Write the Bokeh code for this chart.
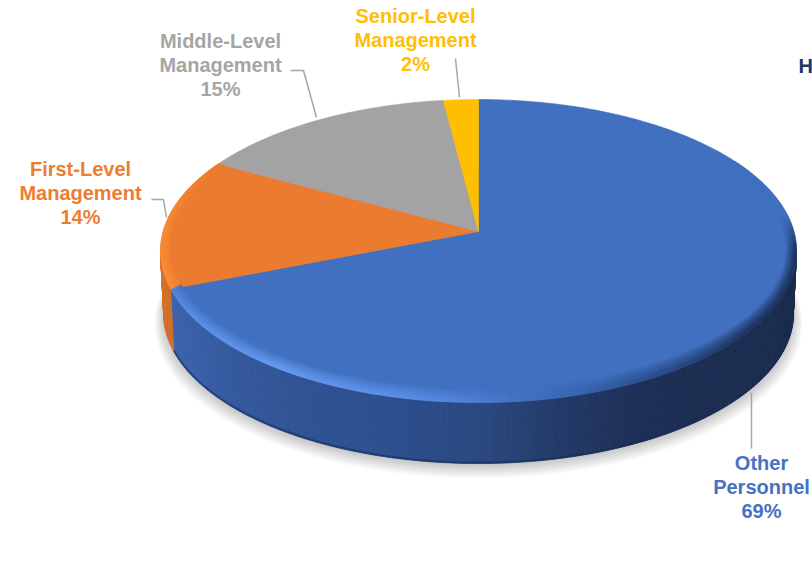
from math import sin, cos, pi, radians

from bokeh.core.properties import value
from bokeh.embed import file_html
from bokeh.models import ColumnDataSource, Range1d
from bokeh.plotting import figure
from bokeh.resources import INLINE

# Share of staff by personnel level, clockwise from twelve o'clock
categories = ["Other Personnel", "First-Level Management", "Middle-Level Management", "Senior-Level Management"]
shares = [69, 14, 15, 2]
slice_colors = ["#4070BF", "#EB7C2F", "#A3A3A3", "#FFBF00"]
label_colors = ["#4472C4", "#ED7D31", "#A5A5A5", "#FFC000"]
label_lines = [["Other", "Personnel", "69%"],
               ["First-Level", "Management", "14%"],
               ["Middle-Level", "Management", "15%"],
               ["Senior-Level", "Management", "2%"]]
label_x = [761, 80, 220, 415]
label_top_y = [462, 168, 40, 15]
LINE_STEP = 24.4
leaders = [([751, 751], [392, 448]),
           ([151, 163, 166], [199, 199, 217]),
           ([290, 303, 316], [70, 70, 117]),
           ([455, 459], [58, 97])]

# Perspective disc: apex position, radii and foreshortening
CX, CY, A, B, K = 478.0, 231.0, 149.0, 315.4, 0.1287
DEPTH = 63.0
WALL_SCALE = 0.99


def rim(theta_deg, rad=1.0, dy=0.0):
    t = radians(theta_deg)
    u, v = rad * sin(t), rad * cos(t)
    s = 1.0 / (1.0 + K * v)
    return CX + B * u * s, CY - A * v * s + dy


def hex_rgb(h):
    return tuple(int(h[i:i + 2], 16) for i in (1, 3, 5))


def lerp(c1, c2, t):
    a, b = hex_rgb(c1), hex_rgb(c2)
    return "#%02x%02x%02x" % tuple(round(a[i] + (b[i] - a[i]) * t) for i in range(3))


def ramp(stops, x):
    if x <= stops[0][0]:
        return stops[0][1]
    for (x0, c0), (x1, c1) in zip(stops, stops[1:]):
        if x <= x1:
            return lerp(c0, c1, (x - x0) / (x1 - x0))
    return stops[-1][1]


def frange(a, b, step):
    n = max(1, round((b - a) / step))
    return [a + (b - a) * i / n for i in range(n + 1)]


# Slice boundaries in degrees
edges = [0.0]
for s in shares:
    edges.append(edges[-1] + s * 3.6)

p = figure(width=812, height=573, output_backend="svg", toolbar_location=None,
           x_range=Range1d(0, 812), y_range=Range1d(573, 0), min_border=0,
           background_fill_color="white", border_fill_color="white")
p.axis.visible = False
p.grid.visible = False
p.outline_line_color = None
p.xaxis.visible = False
p.yaxis.visible = False

# Soft drop shadow beneath the disc
for i in range(9):
    pts = [rim(th, WALL_SCALE + 0.028 - i * 0.004, DEPTH + 9 - i) for th in frange(0, 360, 3)]
    p.patch([q[0] for q in pts], [q[1] for q in pts], fill_color="#000000", fill_alpha=0.028, line_color=None)

# Side wall strips
blue_wall = [(165, "#3A64AE"), (230, "#34599E"), (300, "#2F5393"), (400, "#2C4E8C"), (480, "#2A4880"),
             (560, "#233A68"), (640, "#1C2F55"), (800, "#1A2B4D")]
orange_wall = [(150, "#D9742C"), (180, "#C96C2A")]
LEFTMOST = 262.6
RIGHTMOST = 97.4
wx, wy, wc = [], [], []
for lo, hi, grad in [(RIGHTMOST, edges[1], blue_wall), (edges[1], LEFTMOST, orange_wall)]:
    ths = frange(lo, hi, 0.6)
    for t0, t1 in zip(ths, ths[1:]):
        a0, a1 = rim(t0), rim(t1)
        b0, b1 = rim(t0, WALL_SCALE, DEPTH), rim(t1, WALL_SCALE, DEPTH)
        wx.append([a0[0], a1[0], b1[0], b0[0]])
        wy.append([a0[1], a1[1], b1[1], b0[1]])
        wc.append(ramp(grad, (a0[0] + a1[0]) / 2))
p.patches("xs", "ys", source=ColumnDataSource(dict(xs=wx, ys=wy, c=wc)),
          fill_color="c", line_color="c", line_width=0.8)

# Darker lower edge of the wall
low = [rim(th, WALL_SCALE, DEPTH - 1) for th in frange(RIGHTMOST, edges[1], 1)]
p.line([q[0] for q in low], [q[1] for q in low], line_color="#182B55", line_width=2, line_alpha=0.55)

# Flat top of each slice
for i, color in enumerate(slice_colors):
    pts = [rim(th) for th in frange(edges[i], edges[i + 1], 1)]
    xs = [CX] + [q[0] for q in pts]
    ys = [CY] + [q[1] for q in pts]
    p.patch(xs, ys, fill_color=color, line_color=color, line_width=0.6)

# Bevel around the front of the rim
blue_peak = [(60, "#4070BF"), (84, "#4070BF"), (97, "#1A2D50"), (130, "#1B2F55"), (150, "#2A4A88"),
             (170, "#3F6DBC"), (190, "#5B90EA"), (215, "#699EF4"), (240, "#5C90E6"), (248.4, "#5585D8")]
orange_peak = [(248.4, "#FB8E38"), (270, "#FB8C34"), (285, "#F58430"), (298.8, "#EB7C2F")]
BANDS = 9
gx, gy, gc = [], [], []
for lo, hi, peak, surface in [(60, edges[1], blue_peak, slice_colors[0]),
                              (edges[1], edges[2], orange_peak, slice_colors[1])]:
    ths = frange(lo, hi, 1.2)
    for t0, t1 in zip(ths, ths[1:]):
        for b in range(BANDS):
            def ring(th, j):
                f = j / BANDS
                rad = 0.968 + 0.032 * f
                lift = 8.0 * (1 - f) * max(0.0, -cos(radians(th)))
                return rim(th, rad, -lift)
            q = [ring(t0, b), ring(t1, b), ring(t1, b + 1), ring(t0, b + 1)]
            gx.append([c[0] for c in q])
            gy.append([c[1] for c in q])
            gc.append(lerp(surface, ramp(peak, (t0 + t1) / 2), ((b + 0.5) / BANDS) ** 0.8))
p.patches("xs", "ys", source=ColumnDataSource(dict(xs=gx, ys=gy, c=gc)),
          fill_color="c", line_color="c", line_width=0.5)

# Leader lines
for lx, ly in leaders:
    p.line(lx, ly, line_color="#A6A6A6", line_width=1.5)

# Data labels
for i, lines in enumerate(label_lines):
    ys = [label_top_y[i] + LINE_STEP * j for j in range(len(lines))]
    p.text([label_x[i]] * len(lines), ys, text=lines, text_color=label_colors[i],
           text_font=value("Liberation Sans"), text_font_style="bold", text_font_size="20px",
           text_align="center", text_baseline="middle")

# Chart title running off the right edge
p.text([798], [65], text=["H"], text_color="#1F3864", text_font=value("Liberation Sans"),
       text_font_style="bold", text_font_size="20px", text_align="left", text_baseline="middle")

open("out.html", "w").write(file_html(p, INLINE))
